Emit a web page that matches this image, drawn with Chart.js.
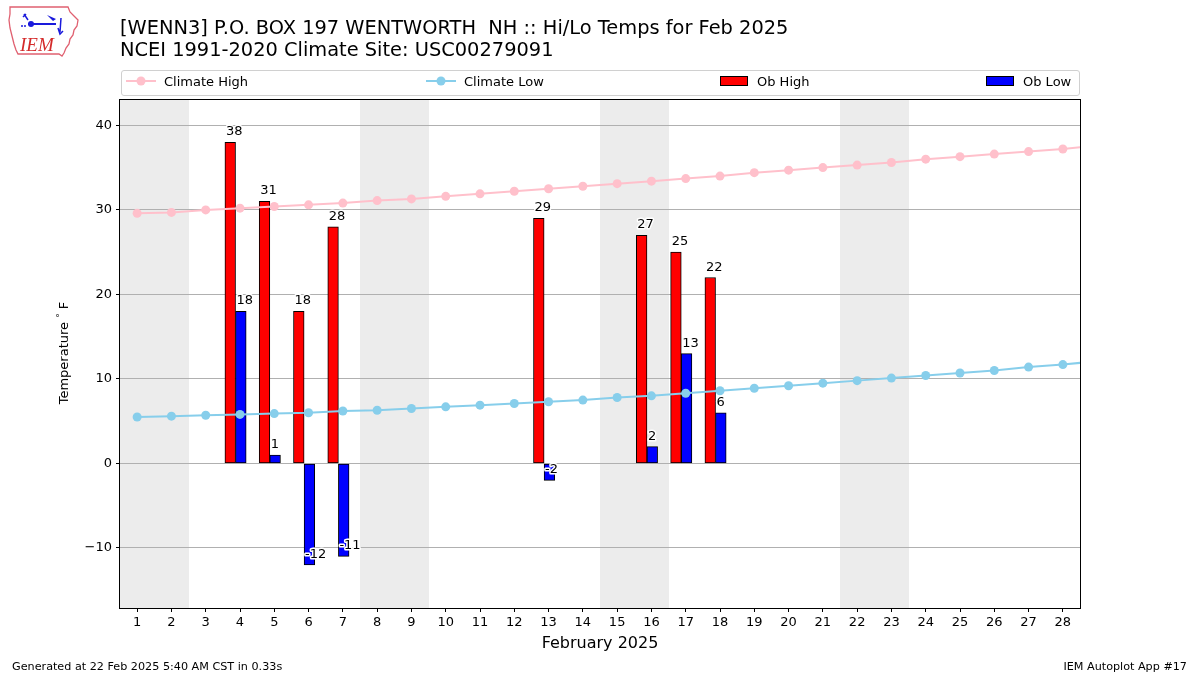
<!DOCTYPE html>
<html>
<head>
<meta charset="utf-8">
<script src="https://cdn.jsdelivr.net/npm/chart.js@4.4.1/dist/chart.umd.min.js"></script>
<style>
  body { margin: 0; background: #fff; font-family: "DejaVu Sans", sans-serif; }
  #wrap { position: relative; width: 1200px; height: 675px; overflow: hidden; }
  #chart { position: absolute; left: 0; top: 0; }
  .txt { position: absolute; white-space: nowrap; color: #000; }
  #title { left: 120px; top: 17px; font-size: 19.4px; line-height: 22px; }
  #legend { position: absolute; left: 121px; top: 70px; width: 957px; height: 24px; border: 1px solid #d0d0d0; border-radius: 3px; }
  .li { position: absolute; top: 0; height: 24px; font-size: 13px; line-height: 22px; }
  .li svg { position: absolute; left: 0; top: 0; }
  .li span { position: absolute; white-space: nowrap; }
  sup { font-size: 9px; vertical-align: 5px; }
</style>
</head>
<body>
<div id="wrap">
  <canvas id="chart" width="1200" height="675"></canvas>

  <svg style="position:absolute;left:6px;top:4px" width="76" height="56" viewBox="0 0 76 56">
    <path d="M4 3 L62 3 L64 8 L68 12 L72 16 L71 22 L68 26 L67 31 L64 35 L63 40 L60 44 L58 49 L56 52 L53 50 L12 50 L10 46 L8 40 L6 32 L4 24 L3 16 L4 10 Z" fill="none" stroke="#e06070" stroke-width="1.3"/>
    <line x1="22" y1="20" x2="50" y2="20" stroke="#1a1adc" stroke-width="2"/>
    <circle cx="25" cy="20" r="3" fill="#1a1adc"/>
    <path d="M18 10 L22 16 M17 13 L20 10" stroke="#1a1adc" stroke-width="1.5" fill="none"/>
    <path d="M41 11 L50 15 L47 17 Z" fill="#1a1adc"/>
    <path d="M55 14 L54 28 M52 24 L54 30 L57 27" stroke="#1a1adc" stroke-width="1.5" fill="none"/>
    <circle cx="16" cy="22" r="1" fill="#1a1adc"/><circle cx="19" cy="22" r="1" fill="#1a1adc"/>
    <text x="14" y="47" font-family="Liberation Serif, serif" font-style="italic" font-size="19" fill="#d42a2a">IEM</text>
  </svg>

  <div id="title" class="txt">[WENN3] P.O. BOX 197 WENTWORTH&nbsp; NH :: Hi/Lo Temps for Feb 2025<br>NCEI 1991-2020 Climate Site: USC00279091</div>

  <div id="legend">
    <div class="li" style="left:3px">
      <svg width="32" height="24"><line x1="1" y1="10" x2="31" y2="10" stroke="#ffc0cb" stroke-width="2"/><circle cx="16" cy="10" r="4.5" fill="#ffc0cb"/></svg>
      <span style="left:39px">Climate High</span>
    </div>
    <div class="li" style="left:303px">
      <svg width="32" height="24"><line x1="1" y1="10" x2="31" y2="10" stroke="#87ceeb" stroke-width="2"/><circle cx="16" cy="10" r="4.5" fill="#87ceeb"/></svg>
      <span style="left:39px">Climate Low</span>
    </div>
    <div class="li" style="left:597px">
      <svg width="32" height="24"><rect x="1.5" y="5.5" width="27" height="9" fill="#ff0000" stroke="#000" stroke-width="1"/></svg>
      <span style="left:38px">Ob High</span>
    </div>
    <div class="li" style="left:863px">
      <svg width="32" height="24"><rect x="1.5" y="5.5" width="27" height="9" fill="#0000ff" stroke="#000" stroke-width="1"/></svg>
      <span style="left:38px">Ob Low</span>
    </div>
  </div>

  <div class="txt" style="left:-2px;top:346px;width:128px;font-size:13px;text-align:center;transform-origin:64px 7px;transform:rotate(-90deg);">Temperature <sup>°</sup> F</div>
  <div class="txt" style="left:0;width:1200px;top:633px;font-size:16px;text-align:center;">February 2025</div>
  <div class="txt" style="left:12px;top:660px;font-size:11.2px;">Generated at 22 Feb 2025 5:40 AM CST in 0.33s</div>
  <div class="txt" style="right:13px;top:660px;font-size:11.2px;">IEM Autoplot App #17</div>
</div>

<script>
// days of the month shown on the x axis
const days = [1, 2, 3, 4, 5, 6, 7, 8, 9, 10, 11, 12, 13, 14, 15, 16, 17, 18, 19, 20, 21, 22, 23, 24, 25, 26, 27, 28];
const yTicks = [-10, 0, 10, 20, 30, 40];
// weekend days get a gray band
const weekendDays = [1, 2, 8, 9, 15, 16, 22, 23];

// NCEI 1991-2020 daily normals (last point runs past the right edge)
const climateDays = [1, 2, 3, 4, 5, 6, 7, 8, 9, 10, 11, 12, 13, 14, 15, 16, 17, 18, 19, 20, 21, 22, 23, 24, 25, 26, 27, 28, 29];
const climateHigh = [29.6, 29.7, 30.0, 30.2, 30.4, 30.6, 30.8, 31.1, 31.3, 31.6, 31.9, 32.2, 32.5, 32.8, 33.1, 33.4, 33.7, 34.0, 34.4, 34.7, 35.0, 35.3, 35.6, 36.0, 36.3, 36.6, 36.9, 37.2, 37.6];
const climateLow = [5.5, 5.6, 5.7, 5.8, 5.9, 6.0, 6.2, 6.3, 6.5, 6.7, 6.9, 7.1, 7.3, 7.5, 7.8, 8.0, 8.3, 8.6, 8.9, 9.2, 9.5, 9.8, 10.1, 10.4, 10.7, 11.0, 11.4, 11.7, 12.1];

// observed values
const obDays = [4, 5, 6, 7, 13, 16, 17, 18];
const obHigh = [38, 31, 18, 28, 29, 27, 25, 22];
const obLow = [18, 1, -12, -11, -2, 2, 13, 6];

const FONT = 'DejaVu Sans';
const BAR_SHIFT = 0.13;  // bar pairs sit a bit left of the day tick
const BAR_WIDTH = 0.31;  // in days

const weekendPlugin = {
  id: 'weekends',
  beforeDraw(chart) {
    const { ctx, chartArea, scales: { x } } = chart;
    // merge consecutive days into one band
    const bands = [];
    weekendDays.forEach(d => {
      const last = bands[bands.length - 1];
      if (last && last[1] === d - 1) last[1] = d; else bands.push([d, d]);
    });
    ctx.save();
    ctx.fillStyle = '#ececec';
    bands.forEach(([s, e]) => {
      const a = Math.max(Math.round(x.getPixelForValue(s - 0.5)), chartArea.left);
      const b = Math.min(Math.round(x.getPixelForValue(e + 0.5)), chartArea.right);
      ctx.fillRect(a, chartArea.top, b - a, chartArea.bottom - chartArea.top);
    });
    ctx.restore();
  }
};

const barLabelPlugin = {
  id: 'barLabels',
  afterDatasetsDraw(chart) {
    const { ctx } = chart;
    const y = chart.scales.y;
    ctx.save();
    ctx.font = '13px ' + FONT;
    ctx.textAlign = 'left';
    ctx.textBaseline = 'alphabetic';
    ctx.lineJoin = 'round';
    chart.data.datasets.forEach((ds, i) => {
      if (ds.type !== 'bar') return;
      chart.getDatasetMeta(i).data.forEach((bar, j) => {
        const v = ds.data[j].y;
        const px = bar.x - bar.width / 2 + 1;
        const py = y.getPixelForValue(v) - 7;
        const s = String(v);
        ctx.strokeStyle = '#fff';
        ctx.lineWidth = 3;
        ctx.strokeText(s, px, py);
        ctx.fillStyle = '#000';
        ctx.fillText(s, px, py);
      });
    });
    ctx.restore();
  }
};

const framePlugin = {
  id: 'frame',
  afterDraw(chart) {
    const { ctx, chartArea: a } = chart;
    ctx.save();
    ctx.strokeStyle = '#000';
    ctx.lineWidth = 1;
    ctx.strokeRect(a.left - 0.5, a.top - 0.5, a.right - a.left + 1, a.bottom - a.top + 1);
    ctx.restore();
  }
};

const barCommon = { type: 'bar', xAxisID: 'xb', borderColor: '#000', borderWidth: 1, borderSkipped: false, order: 2, grouped: true };
const lineCommon = { type: 'line', borderWidth: 2, pointRadius: 4.5, pointBorderWidth: 0, order: 1, clip: 0, tension: 0 };

const chart = new Chart(document.getElementById('chart'), {
  type: 'bar',
  data: {
    datasets: [
      { ...lineCommon, label: 'Climate High', data: climateDays.map((d, i) => ({ x: d, y: climateHigh[i] })), borderColor: '#ffc0cb', backgroundColor: '#ffc0cb', pointBackgroundColor: '#ffc0cb' },
      { ...lineCommon, label: 'Climate Low', data: climateDays.map((d, i) => ({ x: d, y: climateLow[i] })), borderColor: '#87ceeb', backgroundColor: '#87ceeb', pointBackgroundColor: '#87ceeb' },
      { ...barCommon, label: 'Ob High', data: obDays.map((d, i) => ({ x: d, y: obHigh[i] })), backgroundColor: '#ff0000' },
      { ...barCommon, label: 'Ob Low', data: obDays.map((d, i) => ({ x: d, y: obLow[i] })), backgroundColor: '#0000ff' }
    ]
  },
  options: {
    responsive: false, animation: false, devicePixelRatio: 1,
    layout: { padding: { left: 0, right: 120, top: 100, bottom: 0 } },
    plugins: { legend: { display: false }, tooltip: { enabled: false } },
    scales: {
      x: {
        type: 'linear', min: 0.5, max: 28.5, offset: false,
        afterBuildTicks: s => { s.ticks = days.map(v => ({ value: v })); },
        afterFit: s => { s.height = 67; },
        grid: { offset: false, drawOnChartArea: false, tickColor: '#000', tickLength: 4 },
        border: { display: false },
        ticks: { color: '#000', font: { family: FONT, size: 13 }, padding: 3, autoSkip: false, maxRotation: 0 }
      },
      // invisible twin of x, used only to place the bar pairs
      xb: {
        type: 'linear', position: 'bottom', display: true, offset: false,
        min: 0.5 + BAR_SHIFT, max: 28.5 + BAR_SHIFT,
        afterFit: s => { s.height = 0; },
        grid: { display: false, offset: false, drawTicks: false },
        border: { display: false },
        ticks: { display: false }
      },
      y: {
        type: 'linear', min: -17.1, max: 43,
        afterBuildTicks: s => { s.ticks = yTicks.map(v => ({ value: v })); },
        afterFit: s => { s.width = 120; },
        grid: { color: '#b0b0b0', lineWidth: 1, tickColor: '#000', tickLength: 4 },
        border: { display: false },
        ticks: { color: '#000', font: { family: FONT, size: 13 }, padding: 4,
          callback: v => v < 0 ? '\u2212' + Math.abs(v) : String(v) }
      }
    }
  },
  plugins: [weekendPlugin, barLabelPlugin, framePlugin]
});

// bar thickness taken from the day spacing on the x scale
const dayPx = chart.scales.x.getPixelForValue(2) - chart.scales.x.getPixelForValue(1);
chart.data.datasets.forEach(ds => { if (ds.type === 'bar') ds.barThickness = dayPx * BAR_WIDTH; });
chart.update();
</script>
</body>
</html>
